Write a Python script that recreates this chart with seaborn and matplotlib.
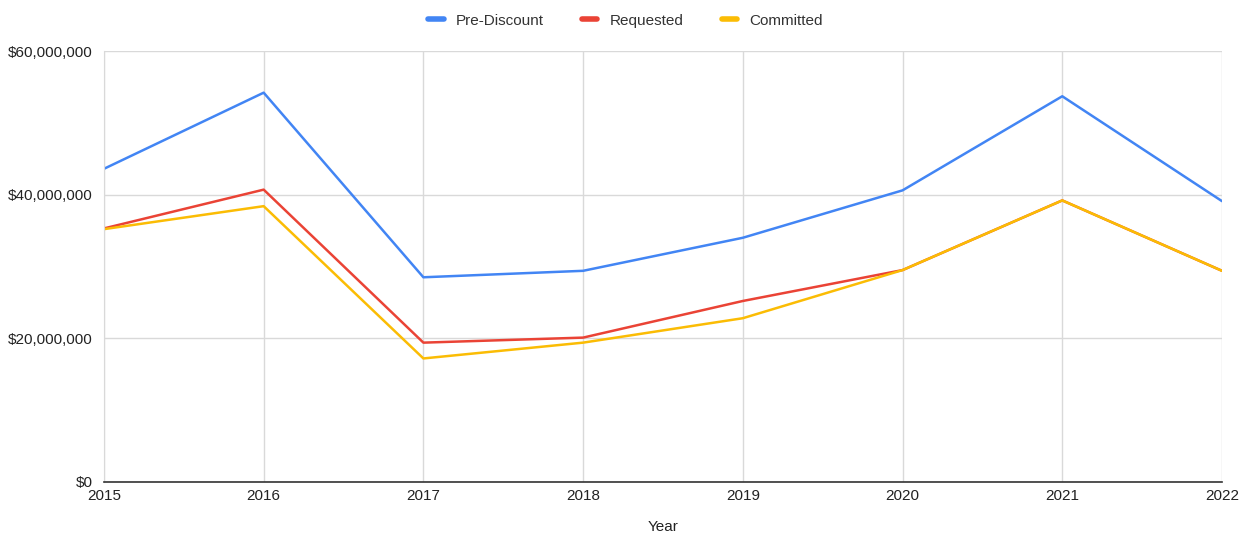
import numpy as np
import pandas as pd
import matplotlib
matplotlib.use("Agg")
import matplotlib.pyplot as plt
import seaborn as sns
from matplotlib.ticker import FuncFormatter, MultipleLocator

years = [2015, 2016, 2017, 2018, 2019, 2020, 2021, 2022]
pre_discount = [43.6, 54.2, 28.5, 29.4, 34.0, 40.6, 53.7, 39.1]
requested = [35.3, 40.7, 19.4, 20.1, 25.2, 29.5, 39.2, 29.4]
committed = [35.2, 38.4, 17.2, 19.4, 22.8, 29.5, 39.2, 29.4]

series_names = ["Pre-Discount", "Requested", "Committed"]
colors = ["#4285F4", "#EA4335", "#FBBC04"]

df = pd.DataFrame({
    "Year": years * 3,
    "Value": np.array(pre_discount + requested + committed) * 1e6,
    "Series": [s for s in series_names for _ in years],
})

sns.set_style("white")
plt.rcParams["font.family"] = ["Liberation Sans", "DejaVu Sans"]

fig = plt.figure(figsize=(12.51, 5.33), dpi=100)
ax = fig.add_axes([0.0831, 0.0957, 0.8937, 0.8086])

sns.lineplot(data=df, x="Year", y="Value", hue="Series", palette=colors,
             hue_order=series_names, linewidth=1.8, ax=ax, legend=False)

ax.set_xlim(2015, 2022)
ax.set_ylim(0, 60e6)
ax.yaxis.set_major_locator(MultipleLocator(20e6))
ax.set_xticks(years)
ax.yaxis.set_major_formatter(FuncFormatter(lambda v, p: f"${v:,.0f}"))
ax.grid(True, color="#d9d9d9", linewidth=1)
ax.set_axisbelow(True)
for side in ["top", "right"]:
    ax.spines[side].set_visible(False)
ax.spines["left"].set_color("#d9d9d9")
ax.spines["bottom"].set_color("#333333")
ax.spines["bottom"].set_linewidth(1.2)
ax.tick_params(axis="both", length=0, labelsize=11, colors="#222222")
ax.tick_params(axis="x", pad=5)
ax.tick_params(axis="y", pad=8)
ax.set_xlabel("Year", fontsize=11, color="#222222", labelpad=12)
ax.set_ylabel("")

handles = [plt.Line2D([0], [0], color=c, linewidth=4) for c in colors]
fig.legend(handles, series_names, loc="upper center", ncol=3, frameon=False,
           bbox_to_anchor=(0.5, 1.0), fontsize=11, handlelength=1.0,
           columnspacing=2.5, handletextpad=0.8, labelcolor="#333333")

fig.savefig("out.png", dpi=100)
